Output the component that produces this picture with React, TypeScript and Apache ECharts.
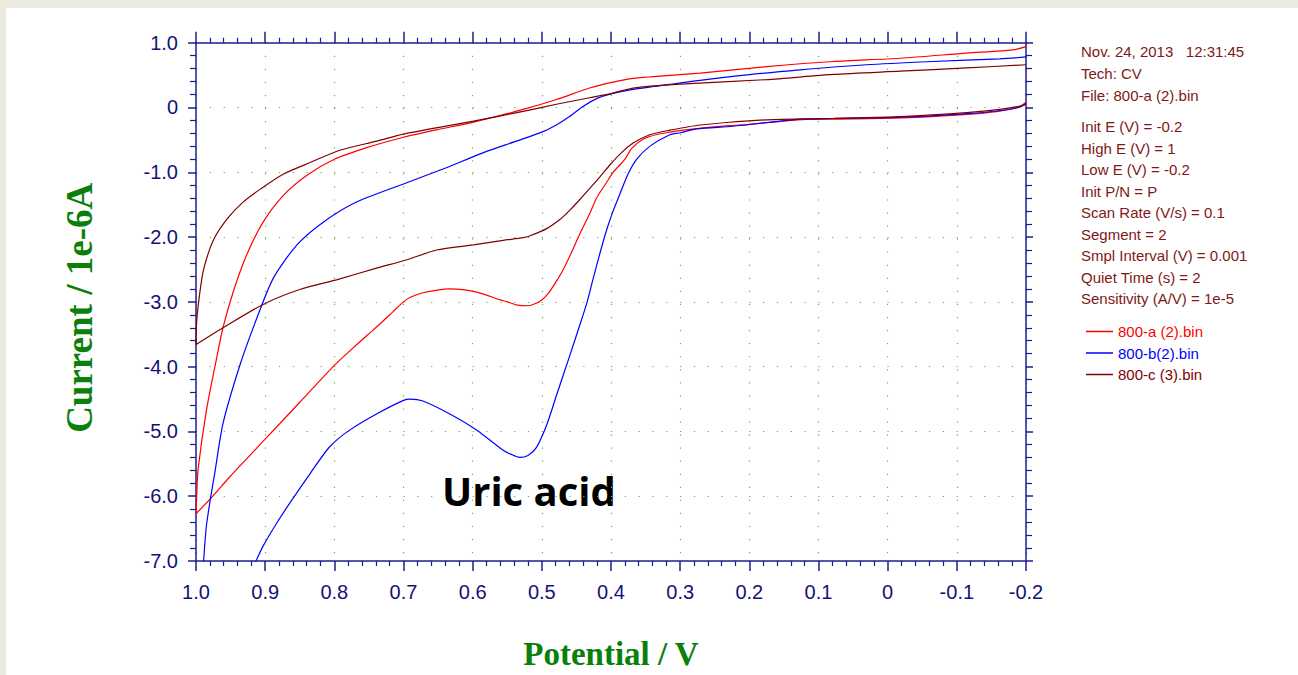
import React, { useEffect, useRef } from "react";
import * as echarts from "echarts";

// Cyclic voltammograms: forward scan (-0.2 V -> 1.0 V) followed by reverse scan (1.0 V -> -0.2 V)
const redPotential = [
  -0.2, -0.19, -0.16, -0.11, -0.02, 0.08, 0.13, 0.2, 0.23, 0.27, 0.32, 0.35, 0.37, 0.38, 0.397, 0.406, 0.421, 0.43, 0.445,
  0.459, 0.47, 0.48, 0.49, 0.5, 0.51, 0.52, 0.535, 0.55, 0.56, 0.594, 0.633, 0.672, 0.69, 0.7, 0.715, 0.735, 0.753, 0.78,
  0.8, 0.85, 0.9, 0.951, 0.98, 1.0,
  0.999, 0.997, 0.985, 0.97, 0.961, 0.946, 0.927, 0.903, 0.874, 0.84, 0.8, 0.753, 0.7, 0.65, 0.6, 0.527, 0.48, 0.431,
  0.402, 0.368, 0.271, 0.175, 0.079, -0.018, -0.114, -0.181, -0.2,
];
const redCurrent = [
  0.08, 0.01, -0.06, -0.11, -0.16, -0.18, -0.19, -0.26, -0.28, -0.32, -0.39, -0.47, -0.63, -0.8, -1.0, -1.15, -1.4, -1.62,
  -1.95, -2.28, -2.52, -2.7, -2.86, -2.97, -3.03, -3.06, -3.05, -3.0, -2.97, -2.85, -2.8, -2.86, -2.93, -3.0, -3.15, -3.35,
  -3.52, -3.78, -3.98, -4.55, -5.12, -5.7, -6.05, -6.27,
  -6.0, -5.59, -4.68, -3.86, -3.4, -2.84, -2.28, -1.77, -1.36, -1.05, -0.8, -0.62, -0.46, -0.34, -0.23, -0.03, 0.12, 0.3,
  0.38, 0.45, 0.53, 0.63, 0.71, 0.76, 0.84, 0.89, 0.94,
];

const bluePotential = [
  -0.2, -0.19, -0.16, -0.11, -0.02, 0.08, 0.127, 0.224, 0.276, 0.3, 0.315, 0.344, 0.363, 0.375, 0.387, 0.397, 0.406, 0.416,
  0.426, 0.435, 0.447, 0.459, 0.479, 0.493, 0.508, 0.52, 0.532, 0.545, 0.556, 0.594, 0.633, 0.672, 0.69, 0.7, 0.739, 0.778,
  0.807, 0.835, 0.864, 0.883, 0.903, 0.912, 0.94, 0.97, 1.0,
  0.995, 0.989, 0.985, 0.977, 0.973, 0.961, 0.936, 0.912, 0.888, 0.854, 0.816, 0.768, 0.7, 0.643, 0.585, 0.537, 0.5,
  0.479, 0.46, 0.44, 0.42, 0.4, 0.368, 0.32, 0.224, 0.127, 0.031, -0.065, -0.162, -0.2,
];
const blueCurrent = [
  0.06, 0.0, -0.05, -0.1, -0.15, -0.17, -0.18, -0.29, -0.33, -0.39, -0.42, -0.6, -0.8, -1.02, -1.33, -1.6, -1.88, -2.25,
  -2.65, -3.02, -3.42, -3.81, -4.45, -4.9, -5.25, -5.37, -5.4, -5.35, -5.29, -4.98, -4.73, -4.53, -4.5, -4.52, -4.73, -4.98,
  -5.24, -5.65, -6.1, -6.41, -6.77, -6.97, -7.6, -8.2, -8.8,
  -7.9, -7.0, -6.46, -5.9, -5.65, -4.88, -3.96, -3.25, -2.63, -2.12, -1.77, -1.46, -1.18, -0.95, -0.7, -0.52, -0.38,
  -0.27, -0.14, 0.02, 0.14, 0.21, 0.28, 0.35, 0.48, 0.58, 0.66, 0.71, 0.75, 0.78,
];

const maroonPotential = [
  -0.2, -0.195, -0.162, -0.114, -0.018, 0.079, 0.175, 0.271, 0.315, 0.344, 0.368, 0.387, 0.401, 0.416, 0.43, 0.445, 0.459,
  0.474, 0.493, 0.517, 0.527, 0.556, 0.599, 0.652, 0.695, 0.739, 0.797, 0.85, 0.903, 0.961, 1.0,
  0.999, 0.995, 0.989, 0.975, 0.955, 0.932, 0.907, 0.874, 0.835, 0.792, 0.739, 0.7, 0.599, 0.527, 0.479, 0.431, 0.402,
  0.368, 0.3, 0.175, 0.079, -0.018, -0.114, -0.2,
];
const maroonCurrent = [
  0.05, 0.03, -0.03, -0.08, -0.14, -0.17, -0.19, -0.27, -0.35, -0.42, -0.55, -0.72, -0.88, -1.07, -1.24, -1.42, -1.58, -1.73,
  -1.87, -1.98, -2.01, -2.05, -2.12, -2.2, -2.35, -2.48, -2.66, -2.81, -3.04, -3.4, -3.66,
  -3.3, -2.9, -2.5, -2.05, -1.72, -1.46, -1.26, -1.03, -0.85, -0.66, -0.52, -0.41, -0.21, -0.06, 0.05, 0.15, 0.21, 0.3,
  0.36, 0.43, 0.51, 0.56, 0.61, 0.66,
];

const seriesNames = ["800-a (2).bin", "800-b(2).bin", "800-c (3).bin"];
const seriesColors = ["#ff0000", "#0000ff", "#800000"];

const headerLines = ["Nov. 24, 2013   12:31:45", "Tech: CV", "File: 800-a (2).bin"];
const paramLines = [
  "Init E (V) = -0.2",
  "High E (V) = 1",
  "Low E (V) = -0.2",
  "Init P/N = P",
  "Scan Rate (V/s) = 0.1",
  "Segment = 2",
  "Smpl Interval (V) = 0.001",
  "Quiet Time (s) = 2",
  "Sensitivity (A/V) = 1e-5",
];

const AXIS_COLOR = "#1c1c92";
const LABEL_COLOR = "#12127a";
const INFO_COLOR = "#801818";
const TITLE_GREEN = "#0a800a";
const GRID_DOT = "#78a844";

const zip = (xs: number[], ys: number[]) => xs.map((x, i) => [x, ys[i]]);
const fmt = (v: number) => (Math.abs(v) < 1e-9 ? "0" : v.toFixed(1));

export default function App() {
  const ref = useRef<HTMLDivElement>(null);

  useEffect(() => {
    if (!ref.current) return;
    const chart = echarts.init(ref.current, undefined, { renderer: "svg" });

    const baseX = {
      type: "value" as const,
      min: -0.2,
      max: 1.0,
      interval: 0.1,
      inverse: true,
      axisLine: { show: true, onZero: false, lineStyle: { color: AXIS_COLOR, width: 1.5 } },
      axisTick: { show: true, inside: false, length: 10, lineStyle: { color: AXIS_COLOR, width: 1.5 } },
      minorTick: { show: true, splitNumber: 5, length: 5, lineStyle: { color: AXIS_COLOR, width: 1.2 } },
    };
    const baseY = {
      type: "value" as const,
      min: -7,
      max: 1,
      interval: 1,
      axisLine: { show: true, onZero: false, lineStyle: { color: AXIS_COLOR, width: 1.5 } },
      axisTick: { show: true, inside: false, length: 8, lineStyle: { color: AXIS_COLOR, width: 1.5 } },
      minorTick: { show: true, splitNumber: 5, length: 6, lineStyle: { color: AXIS_COLOR, width: 1.2 } },
    };

    chart.setOption({
      animation: false,
      backgroundColor: "#ece9df",
      grid: { left: 196, top: 42.7, width: 830, height: 522.3, containLabel: false },
      xAxis: [
        {
          ...baseX,
          position: "bottom",
          name: "Potential / V",
          nameLocation: "middle",
          nameGap: 76,
          nameTextStyle: {
            fontFamily: "Liberation Serif, Times New Roman, serif",
            fontWeight: "bold",
            fontSize: 33,
            color: TITLE_GREEN,
          },
          axisLabel: {
            show: true,
            margin: 21,
            formatter: fmt,
            fontFamily: "Liberation Sans, Arial, sans-serif",
            fontSize: 20,
            color: LABEL_COLOR,
          },
          splitLine: {
            show: true,
            lineStyle: { color: GRID_DOT, width: 1.2, type: [1.2, 11.86] },
          },
        },
        {
          ...baseX,
          position: "top",
          axisLabel: { show: false },
          splitLine: { show: false },
          axisTick: { ...baseX.axisTick, length: 11 },
        },
      ],
      yAxis: [
        {
          ...baseY,
          position: "left",
          name: "Current / 1e-6A",
          nameLocation: "middle",
          nameGap: 98,
          nameRotate: 90,
          nameTextStyle: {
            fontFamily: "Liberation Serif, Times New Roman, serif",
            fontWeight: "bold",
            fontSize: 37,
            color: TITLE_GREEN,
            padding: [0, 12, 0, 0],
          },
          axisLabel: {
            show: true,
            margin: 18,
            formatter: fmt,
            fontFamily: "Liberation Sans, Arial, sans-serif",
            fontSize: 20,
            color: LABEL_COLOR,
          },
          splitLine: {
            show: true,
            lineStyle: { color: GRID_DOT, width: 1.2, type: [1.2, 12.63] },
          },
        },
        {
          ...baseY,
          position: "right",
          axisLabel: { show: false },
          splitLine: { show: false },
          axisTick: { ...baseY.axisTick, length: 7 },
        },
      ],
      legend: {
        show: true,
        orient: "vertical",
        left: 1081,
        top: 319,
        itemWidth: 27,
        itemHeight: 1.5,
        itemGap: 6.5,
        icon: "rect",
        data: seriesNames.map((n, i) => ({
          name: n,
          textStyle: { color: seriesColors[i] },
        })),
        textStyle: {
          fontFamily: "Liberation Sans, Arial, sans-serif",
          fontSize: 15,
        },
      },
      graphic: [
        {
          type: "rect",
          z: -100,
          shape: { x: 6, y: 8, width: 1292, height: 667 },
          style: { fill: "#ffffff" },
          silent: true,
        },
        {
          type: "text",
          left: 1081,
          top: 41,
          style: {
            text: headerLines.join("\n"),
            font: "15px 'Liberation Sans', Arial, sans-serif",
            lineHeight: 21.6,
            fill: INFO_COLOR,
          },
        },
        {
          type: "text",
          left: 1081,
          top: 116,
          style: {
            text: paramLines.join("\n"),
            font: "15px 'Liberation Sans', Arial, sans-serif",
            lineHeight: 21.5,
            fill: INFO_COLOR,
          },
        },
        {
          type: "text",
          left: 442,
          top: 470,
          style: {
            text: "Uric acid",
            font: "bold 40px 'Open Sans', 'Noto Sans', sans-serif",
            fill: "#000000",
          },
        },
      ],
      series: [
        { data: zip(redPotential, redCurrent) },
        { data: zip(bluePotential, blueCurrent) },
        { data: zip(maroonPotential, maroonCurrent) },
      ].map((s, i) => ({
        name: seriesNames[i],
        type: "line",
        xAxisIndex: 0,
        yAxisIndex: 0,
        data: s.data,
        showSymbol: false,
        smooth: 0.25,
        clip: true,
        color: seriesColors[i],
        lineStyle: { color: seriesColors[i], width: 1.2 },
      })),
    });

    return () => chart.dispose();
  }, []);

  return (
    <div
      ref={ref}
      style={{ position: "fixed", left: 0, top: 0, width: 1298, height: 675 }}
    />
  );
}
